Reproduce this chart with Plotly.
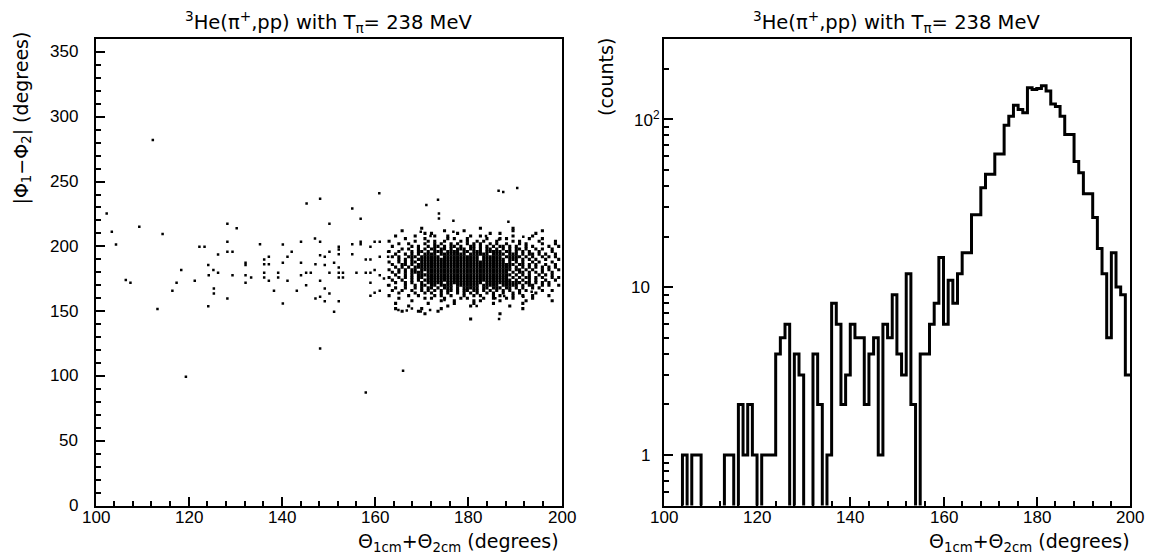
import math
import plotly.graph_objects as go

# ---------------- data: left panel (scatter) ----------------
# isolated events: theta1+theta2 (deg), |phi1-phi2| (deg)
sparse_x = [102.4, 103.5, 104.4, 109.4, 112.3, 106.5, 107.5, 113.3, 114.4, 116.5, 117.4, 118.4, 119.4,
            121.3, 122.3, 123.4, 124.2, 124.3, 124.2, 125.3, 125.4, 125.4, 126.3, 126.3, 128.3, 128.3,
            128.3, 129.4, 129.4, 128.3, 130.3, 132.2, 132.2, 132.2, 132.2, 133.4, 135.3, 136.2, 136.2,
            136.2, 136.2, 137.2, 137.2, 137.2, 138.3, 139.2, 139.2, 140.2, 140.2, 140.2, 141.2, 141.2,
            142.1, 143.2, 144.1, 144.1, 144.1, 145.2, 145.2, 145.3, 146.2, 147.1, 147.2, 147.2, 148.2,
            148.2, 148.2, 148.2, 148.2, 148.2, 149.2, 149.2, 149.2, 149.2, 150.2, 150.2, 150.2, 150.2,
            151.2, 151.2, 152.2, 152.2, 152.2, 152.2, 152.2, 152.2, 152.2, 153.1, 153.1, 155.1, 155.1,
            155.1, 156.0, 156.9, 156.9, 156.9, 158.0, 158.0, 158.0, 159.0, 159.0, 159.0, 159.0, 159.0,
            159.9, 159.9, 159.9, 160.9, 161.0, 161.0, 161.0, 161.0, 161.9, 162.8, 162.8, 162.8, 166.0,
            173.7, 173.7, 176.8, 176.8, 188.6, 183.8, 191.8, 186.6, 171.9, 169.8, 181.8, 186.6, 165.0,
            166.8, 167.9, 169.8, 171.8, 174.9, 179.7, 185.8, 187.7, 191.8, 193.6, 186.5, 187.5, 190.5,
            173.5, 171.0]
sparse_y = [225.4, 211.3, 201.5, 215.2, 282.0, 174.0, 171.9, 151.6, 209.5, 165.7, 171.9, 181.7, 99.4,
            173.4, 199.7, 199.7, 185.6, 177.8, 153.9, 181.7, 167.5, 163.7, 193.8, 179.6, 217.4, 203.5,
            195.8, 195.8, 177.8, 159.8, 213.9, 187.4, 185.6, 177.8, 171.9, 176.0, 201.7, 189.9, 186.3,
            179.6, 176.0, 192.0, 186.3, 173.4, 165.7, 179.6, 176.0, 201.5, 187.4, 156.0, 192.0, 173.4,
            195.8, 165.7, 203.5, 187.4, 177.8, 179.6, 170.1, 233.0, 179.6, 206.1, 186.3, 159.8, 236.8,
            203.5, 193.2, 173.4, 161.1, 121.3, 192.0, 185.6, 167.5, 157.7, 217.4, 195.8, 179.6, 163.7,
            187.4, 149.6, 199.7, 197.6, 194.0, 183.7, 179.6, 176.0, 157.7, 179.6, 176.0, 229.2, 201.7,
            194.0, 179.6, 221.4, 203.5, 201.7, 87.2, 189.9, 179.6, 199.7, 189.9, 179.6, 171.9, 161.9,
            203.5, 181.7, 164.2, 240.9, 203.5, 192.0, 177.8, 165.7, 175.3, 195.8, 192.0, 170.1, 104.0,
            225.4, 221.6, 219.8, 211.3, 219.0, 208.0, 207.4, 205.4, 208.0, 211.3, 154.0, 143.9, 151.0,
            150.5, 152.0, 149.8, 151.0, 158.6, 166.3, 159.9, 161.7, 161.1, 165.0, 243.0, 242.0, 245.0,
            236.0, 232.0]

# occupancy map of the dense core; '#' = occupied cell
core_x_first = 163.0   # theta-sum of first column (deg)
core_x_step = 0.7      # column spacing (deg)
core_y_top = 214.0     # phi-difference of first row (deg)
core_y_step = 2.0      # row spacing (deg)
core_rows = [
    "..........#.................#.........#..............",
    "....#............#.....#..............#........#......",
    "...........#.#.......#.........#..#..........#........",
    "..#.....#.....#...#......#..#.........#.....#.........",
    ".....#.....#......#.#...#.....#...#.#......#...#......",
    "#.......#...#.#..#....#.#..#.#...#....#.#.....#....#..",
    "...#..#....#..#.#..#.#..#.#.#..#.#..#...#.#....#...#.",
    ".#.....#.#..#.##.#.##.#..##.#.#.#.##.#.#..#.#....#..#",
    "....#.#..#.#.##.##.#.###.##.#.##.#.#.#.##.#..#.#..#..",
    "#..#...#.##.#.###.####.##.###.#####.##.#.#.#..#...#..",
    "..#..#.#.#.####.########.######.####.###.#.##.#.#..#.",
    ".#.#..###.######.###########.######.#####.#.#..#.#.#.",
    "...#.#.#.###################.#######.###.#.#.#..#...#",
    "#..#.#.##.##########################.#.#.#..#.#...#..",
    ".#..##.#.##############################.##.#.#..#..#.",
    "..#.#.#.##############################.#.#.#.#.#.#.#.",
    "#..#.#.##.############################.##.#.#..#.#..#",
    ".#.#.#.####.#########################.#.##.#.#.#..#.",
    "..#..#.#.#############################.#.#.#..#.#.#..",
    "#..#.#.#.##.#########################.#.#.##.#.#..#.#",
    ".#..#..#.#.###########################.#.#.#.#..#..#.",
    "..#..#.#..#.#####.###########.###########.##.#.#.#...",
    "#....#..#.##.##.####.#######.#####.#####.#.##..#.#..#",
    "..#..#..#.#.##.#.###.#.#####.##.###.##.#.#..#.#......",
    ".#..#..#..#.#.#.#.##.#.##.##.#.#.#.#.#..#.#....#..#..",
    "...#....#..#.#..#.#..#.#.#.#..#.#..#..#.#....#........",
    "#.....#..#....#.#..#...#..#.#...#.#...#..#..#....#....",
    "...#.......#.#...#....#.#....#..#...#.#.....#.........",
    ".......#........#...#.....#.#.....#.......#.......#...",
    "..#.........#.......#.....#.....#........#............",
    "......#...........#......#...........#................",
    "..#.......#.....#........................#...........",
    "....#....#.....#......................................",
    "...........#......................#...................",
    "......................................................",
    ".........................#............................",
    "......................................................",
]

# ---------------- data: right panel (histogram) ----------------
bin_left = list(range(100, 200))   # 1-degree bins
counts = [0, 0, 0, 0, 1, 0, 1, 1, 0, 0,
          0, 0, 0, 1, 1, 0, 2, 1, 2, 1,
          0, 1, 1, 1, 4, 5, 6, 0, 4, 3,
          0, 0, 4, 2, 0, 1, 8, 6, 2, 3,
          6, 5, 5, 2, 4, 5, 1, 6, 5, 9,
          4, 3, 12, 2, 0, 4, 4, 6, 8, 15,
          6, 11, 8, 12, 16, 16, 27, 27, 39, 47,
          47, 62, 62, 92, 104, 121, 114, 109, 154, 150,
          152, 158, 147, 123, 119, 104, 81, 81, 56, 48,
          36, 36, 26, 17, 12, 5, 16, 10, 9, 3]
bin_width = 1

# tick labels
x_ticks = [100, 120, 140, 160, 180, 200]
y_ticks_left = [0, 50, 100, 150, 200, 250, 300, 350]
y_ticks_right = [1, 10, 100]
y_ticktext_right = ["1", "10", "10<sup>2</sup>"]

title_text = "<sup>3</sup>He(\u03c0<sup>+</sup>,pp) with T<sub>\u03c0</sub>= 238 MeV"
xlab = "\u0398<sub>1cm</sub>+\u0398<sub>2cm</sub> (degrees)"
ylab_left = "|\u03a6<sub>1</sub>\u2212\u03a6<sub>2</sub>| (degrees)"
ylab_right = "(counts)"

# ---------------- build ----------------
cx, cy = [], []
for r, row in enumerate(core_rows):
    for c, ch in enumerate(row):
        if ch == "#":
            cx.append(core_x_first + c * core_x_step)
            cy.append(core_y_top - r * core_y_step)

hx = bin_left + [bin_left[-1] + bin_width]
hy = counts + [counts[-1]]
hy_draw = [v if v > 0 else 0.01 for v in hy]   # empty bins drop below the axis

W, H = 1157, 556
TFONT = "Liberation Sans"
AFONT = "DejaVu Sans"
L1, R1 = 95.5 / W, 561.5 / W
L2, R2 = 663.8 / W, 1130.0 / W
B, T = (H - 505.6) / H, (H - 39.0) / H

fig = go.Figure()
fig.add_trace(go.Scatter(x=cx, y=cy, mode="markers",
                         marker=dict(symbol="square", size=3.1, color="black", line=dict(width=0)),
                         xaxis="x", yaxis="y", showlegend=False, hoverinfo="skip"))
fig.add_trace(go.Scatter(x=sparse_x, y=sparse_y, mode="markers",
                         marker=dict(symbol="square", size=2.5, color="black", line=dict(width=0)),
                         xaxis="x", yaxis="y", showlegend=False, hoverinfo="skip"))
fig.add_trace(go.Scatter(x=hx, y=hy_draw, mode="lines", line=dict(shape="hv", color="black", width=3),
                         xaxis="x2", yaxis="y2", showlegend=False, hoverinfo="skip"))

axis_common = dict(showgrid=False, zeroline=False, showline=True, linecolor="black", linewidth=2,
                   mirror=True, ticks="inside", tickwidth=2, tickcolor="black", ticklen=9,
                   showticklabels=False)
minor_x = dict(ticks="inside", dtick=4, tick0=100, ticklen=5, tickwidth=1.5, tickcolor="black")

fig.update_layout(
    width=W, height=H, margin=dict(l=0, r=0, t=0, b=0),
    paper_bgcolor="white", plot_bgcolor="white",
    xaxis=dict(domain=[L1, R1], range=[100, 200], anchor="y", tickmode="array", tickvals=x_ticks,
               minor=minor_x, **axis_common),
    yaxis=dict(domain=[B, T], range=[0, 360], anchor="x", tickmode="array", tickvals=y_ticks_left,
               minor=dict(ticks="inside", dtick=10, tick0=0, ticklen=5, tickwidth=1.5, tickcolor="black"),
               **axis_common),
    xaxis2=dict(domain=[L2, R2], range=[100, 200], anchor="y2", tickmode="array", tickvals=x_ticks,
                minor=minor_x, **axis_common),
    yaxis2=dict(domain=[B, T], type="log", range=[math.log10(0.5), math.log10(300)], anchor="x2",
                tickmode="array", tickvals=y_ticks_right,
                minor=dict(ticks="inside", tickmode="array",
                           tickvals=[0.6, 0.7, 0.8, 0.9, 2, 3, 4, 5, 6, 7, 8, 9,
                                     20, 30, 40, 50, 60, 70, 80, 90, 200, 300],
                           ticklen=5, tickwidth=1.5, tickcolor="black"),
                **axis_common),
)

tick_font = dict(family=TFONT, size=17, color="black")
title_font = dict(family=AFONT, size=19.5, color="black")
ann_font = dict(family=AFONT, size=19, color="black")
annotations = []
# tick labels (real text), placed on the axes' own coordinates
for xr in ("x", "x2"):
    for v in x_ticks:
        annotations.append(dict(text=str(v), x=v, xref=xr, y=1 - 517 / H, yref="paper",
                                showarrow=False, xanchor="center", yanchor="middle", font=tick_font,
                                borderpad=0))
for v in y_ticks_left:
    annotations.append(dict(text=str(v), x=79 / W, xref="paper", y=v, yref="y",
                            showarrow=False, xanchor="right", yanchor="middle", font=tick_font,
                            borderpad=0))
for v, t in zip(y_ticks_right, y_ticktext_right):
    xr = 661 if "sup" in t else 651
    annotations.append(dict(text=t, x=xr / W, xref="paper", y=math.log10(v), yref="y2",
                            showarrow=False, xanchor="right", yanchor="middle", font=tick_font,
                            borderpad=0))
annotations += [
    dict(text=title_text, x=(L1 + R1) / 2, y=1 - 22 / H, xref="paper", yref="paper",
         showarrow=False, xanchor="center", yanchor="middle", font=title_font),
    dict(text=title_text, x=(L2 + R2) / 2, y=1 - 22 / H, xref="paper", yref="paper",
         showarrow=False, xanchor="center", yanchor="middle", font=title_font),
    dict(text=xlab, x=560 / W, y=0.0, xref="paper", yref="paper", borderpad=0,
         showarrow=False, xanchor="right", yanchor="bottom", font=ann_font),
    dict(text=xlab, x=1131 / W, y=0.0, xref="paper", yref="paper", borderpad=0,
         showarrow=False, xanchor="right", yanchor="bottom", font=ann_font),
    dict(text=ylab_left, x=22 / W, y=1 - 30 / H, xref="paper", yref="paper", textangle=-90,
         showarrow=False, xanchor="center", yanchor="top", font=ann_font),
    dict(text=ylab_right, x=606 / W, y=1 - 36 / H, xref="paper", yref="paper", textangle=-90,
         showarrow=False, xanchor="center", yanchor="top", font=ann_font),
]
fig.update_layout(annotations=annotations)

fig.write_html("out.html")
